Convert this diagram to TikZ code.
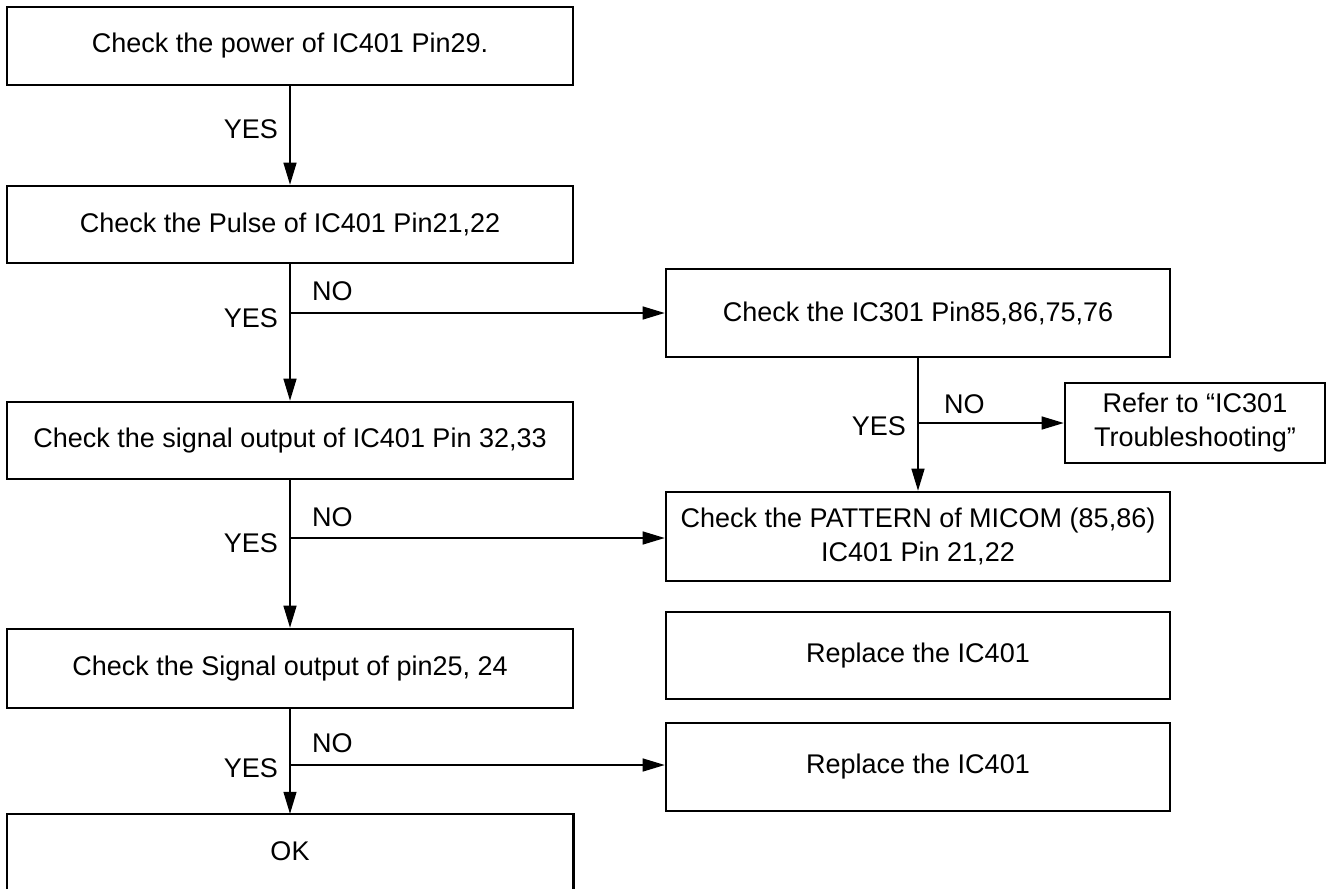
\documentclass[tikz,border=0pt]{standalone}
\usepackage{fontspec}
\setmainfont{Liberation Sans}
\usetikzlibrary{arrows.meta}
\begin{document}
\begin{tikzpicture}[x=1pt,y=-1pt,
  every node/.style={font=\fontsize{27}{34}\selectfont},
  box/.style={draw, line width=2.6pt, inner sep=0pt, align=center},
  conn/.style={line width=1.3pt},
  arr/.style={conn, -{Triangle[length=22pt,width=13pt]}},
  lbl/.style={inner sep=0pt}
]
\useasboundingbox (0,0) rectangle (1327,889);
% left column
\node[box, minimum width=566pt, minimum height=78pt] (b1) at (290,46) {Check the power of IC401 Pin29.};
\node[box, minimum width=566pt, minimum height=77pt] (b2) at (290,224.5) {Check the Pulse of IC401 Pin21,22};
\node[box, minimum width=566pt, minimum height=77pt] (b3) at (290,440.5) {Check the signal output of IC401 Pin 32,33};
\node[box, minimum width=566pt, minimum height=79pt] (b4) at (290,668.5) {Check the Signal output of pin25, 24};
\node[inner sep=0pt, minimum width=566pt, minimum height=75pt] (b5) at (290,851.5) {OK};
\draw[line width=2.6pt] (b5.south west) -- (b5.north west) -- (b5.north east) -- (b5.south east);
% right column
\node[box, minimum width=504pt, minimum height=88pt] (r1) at (918,313) {Check the IC301 Pin85,86,75,76};
\node[box, minimum width=260pt, minimum height=80pt] (rf) at (1195,423) {Refer to “IC301\\Troubleshooting”};
\node[box, minimum width=504pt, minimum height=89pt] (r2) at (918,536.5) {Check the PATTERN of MICOM (85,86)\\IC401 Pin 21,22};
\node[box, minimum width=504pt, minimum height=87pt] (r3) at (918,655.5) {Replace the IC401};
\node[box, minimum width=504pt, minimum height=88pt] (r4) at (918,767) {Replace the IC401};
% junctions
\coordinate (j1) at (290,313);
\coordinate (j2) at (290,538);
\coordinate (j3) at (290,765);
\coordinate (j4) at (918,423);
% connectors
\draw[arr] (b1.south) -- (b2.north);
\draw[arr] (b2.south) -- (b3.north);
\draw[arr] (j1) -- (j1 -| r1.west);
\draw[arr] (b3.south) -- (b4.north);
\draw[arr] (j2) -- (j2 -| r2.west);
\draw[arr] (b4.south) -- (b5.north);
\draw[arr] (j3) -- (j3 -| r4.west);
\draw[arr] (r1.south) -- (r2.north);
\draw[arr] (j4) -- (rf.west);
% labels
\node[lbl, anchor=east] (y0) at (278,129) {YES};
\node[lbl, anchor=east] (y1) at (278,318) {YES};
\node[lbl, anchor=west] (n1) at (312,291) {NO};
\node[lbl, anchor=east] (y2) at (278,543) {YES};
\node[lbl, anchor=west] (n2) at (312,517) {NO};
\node[lbl, anchor=east] (y3) at (278,768) {YES};
\node[lbl, anchor=west] (n3) at (312,743) {NO};
\node[lbl, anchor=east] (y4) at (906,426) {YES};
\node[lbl, anchor=west] (n4) at (944,404) {NO};
\end{tikzpicture}
\end{document}
